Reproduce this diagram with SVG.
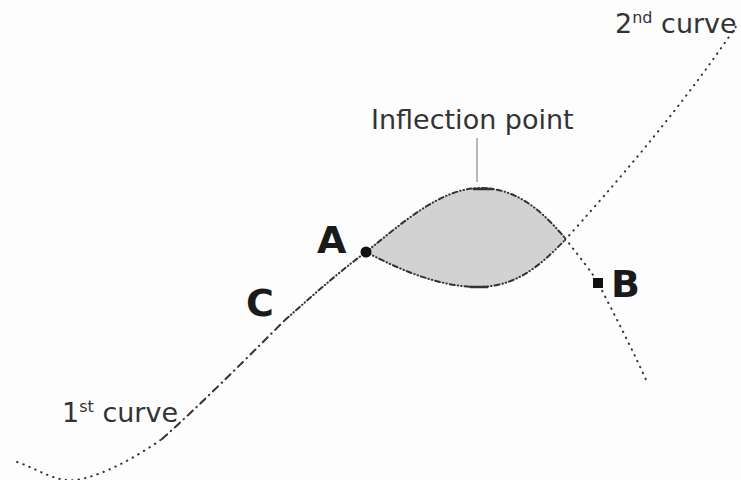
<svg xmlns="http://www.w3.org/2000/svg" width="741" height="480" viewBox="0 0 741 480">
<style>
.lbl{font-family:"DejaVu Sans","Liberation Sans",sans-serif;fill:#333;font-size:27px}
.big{font-family:"DejaVu Sans","Liberation Sans",sans-serif;fill:#1a1a1a;font-size:38px;font-weight:bold}
.cv{fill:none;stroke:#333;stroke-width:2;stroke-linecap:round}
.dot{stroke-dasharray:0.5 6}
.dd{stroke-dasharray:7 5 0.5 5}
.ds{stroke-dasharray:5 3 0.5 3 0.5 3}
</style>
<rect width="741" height="480" fill="#fdfdfd"/>
<g id="lens">
<path d="M366,252 C400,225 440,188 480,188 C520,188 545,215 565,238 C545,260 520,287 478,287 C440,287 400,270 366,252 Z" fill="#d2d2d2"/>
</g>
<g id="connectors">
<path class="cv dot" d="M17,462 C40,470 55,482 75,480 C100,477 135,458 162,439"/>
<path class="cv dd" d="M162,439 C200,405 240,365 285,320"/>
<path class="cv ds" d="M285,320 C310,298 335,275 366,252"/>
<path class="cv ds" d="M366,252 C400,225 440,188 480,188 C520,188 545,215 565,238"/>
<path class="cv dot" d="M565,238 C580,258 592,272 598,283 C615,315 635,355 647,382"/>
<path class="cv ds" d="M366,252 C400,270 440,287 478,287 C520,287 545,260 565,240"/>
<path class="cv dot" d="M565,240 C610,190 680,110 737,25"/>
<path d="M473,189 L493,189" stroke="#333" stroke-width="2.5"/>
<path d="M470,287 L488,287" stroke="#333" stroke-width="2.5"/>
<path d="M477,138 L477,182" stroke="#888" stroke-width="1.2"/>
</g>
<g id="A"><circle cx="366" cy="252" r="5.5" fill="#111"/><text class="big" x="317" y="253">A</text></g>
<g id="B"><rect x="593" y="278" width="10" height="10" fill="#111"/><text class="big" x="611" y="297">B</text></g>
<g id="C"><text class="big" x="246" y="316">C</text></g>
<g id="inflection"><text class="lbl" x="371" y="129">Inflection point</text></g>
<g id="curve1"><text class="lbl" x="62" y="422">1<tspan font-size="16" dy="-10">st</tspan><tspan dy="10"> curve</tspan></text></g>
<g id="curve2"><text class="lbl" x="615" y="33">2<tspan font-size="16" dy="-10">nd</tspan><tspan dy="10"> curve</tspan></text></g>
</svg>
